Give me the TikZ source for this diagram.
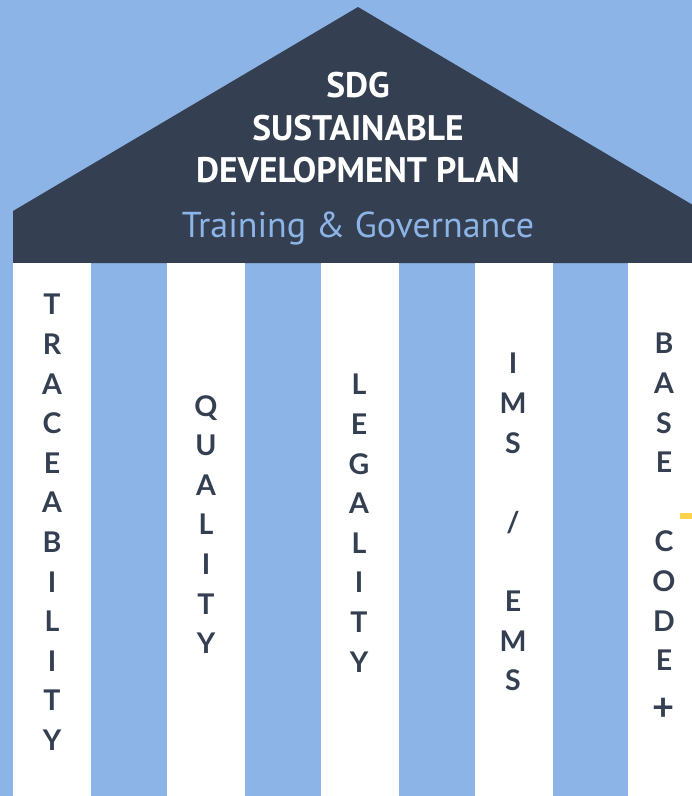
\documentclass[tikz,border=0pt]{standalone}
\usepackage{fontspec}
\setmainfont{Lato}
\newfontfamily\rooffont{PT Sans}
\newfontfamily\colfont{Lato}
\definecolor{skyblue}{HTML}{8DB4E6}
\definecolor{slate}{HTML}{343F51}
\definecolor{sunny}{HTML}{FFD34E}
\tikzset{
  pillar/.style={fill=white, draw=none},
  pillartext/.style={anchor=north, inner sep=0pt, align=center, text=slate,
    font=\colfont\bfseries\fontsize{28.5}{39.6}\selectfont},
  roofline/.style={inner sep=0pt, align=center, text=white,
    font=\rooffont\bfseries\fontsize{35.5}{42.5}\selectfont},
}
\begin{document}
\begin{tikzpicture}[x=1pt,y=-1pt]
\useasboundingbox (0,0) rectangle (692,796);
\clip (0,0) rectangle (692,796);
\fill[skyblue] (0,0) rectangle (692,796);
% roof
\fill[slate] (13,263) -- (13,211) -- (358,7) -- (703,211) -- (703,263) -- cycle;
% pillars
\fill[pillar] (13,263) rectangle (91,796);
\fill[pillar] (167,263) rectangle (245,796);
\fill[pillar] (321,263) rectangle (399,796);
\fill[pillar] (475,263) rectangle (553,796);
\fill[pillar] (628,263) rectangle (706,796);
% roof text
\node[roofline, anchor=north] (title) at (358,72) {SDG\\SUSTAINABLE\\DEVELOPMENT PLAN};
\node[inner sep=0pt, anchor=base, text=skyblue, font=\rooffont\fontsize{36}{40}\selectfont] (sub) at (358,237) {Training \& Governance};
% pillar texts
\node[pillartext] (trace) at (52,294) {T\\R\\A\\C\\E\\A\\B\\I\\L\\I\\T\\Y};
\node[pillartext] (quality) at (206,395) {Q\\U\\A\\L\\I\\T\\Y};
\node[pillartext] (legality) at (359,374) {L\\E\\G\\A\\L\\I\\T\\Y};
\node[pillartext] (ims) at (513,353) {I\\M\\S\\~\\/\\~\\E\\M\\S};
\node[pillartext] (base) at (664,333) {B\\A\\S\\E\\~\\C\\O\\D\\E};
\node[inner sep=0pt, text=slate, font=\colfont\bfseries\fontsize{38}{40}\selectfont] (plus) at (664,709) {+};
% small yellow mark
\fill[sunny] (680,513) rectangle (692,519);
\end{tikzpicture}
\end{document}
